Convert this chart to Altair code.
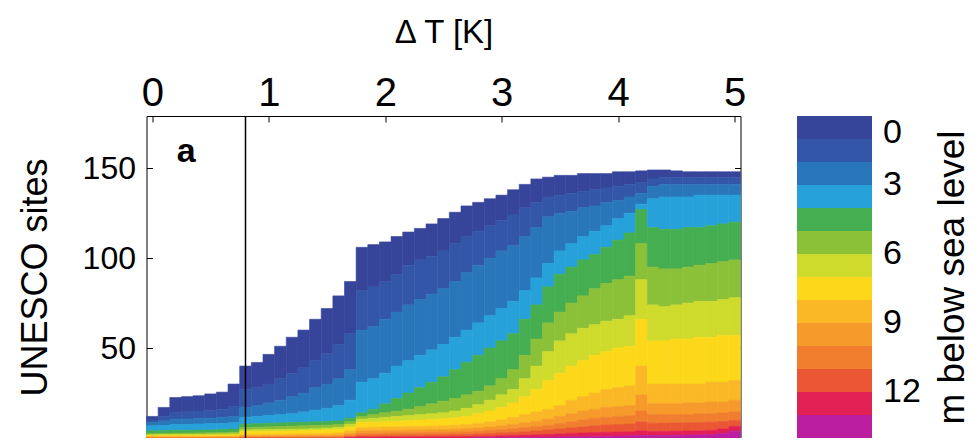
import altair as alt
import pandas as pd

# Warming levels (K), one column per 0.1 K
dT = [0.0, 0.1, 0.2, 0.3, 0.4, 0.5, 0.6, 0.7, 0.8, 0.9,
      1.0, 1.1, 1.2, 1.3, 1.4, 1.5, 1.6, 1.7, 1.8, 1.9,
      2.0, 2.1, 2.2, 2.3, 2.4, 2.5, 2.6, 2.7, 2.8, 2.9,
      3.0, 3.1, 3.2, 3.3, 3.4, 3.5, 3.6, 3.7, 3.8, 3.9,
      4.0, 4.1, 4.2, 4.3, 4.4, 4.5, 4.6, 4.7, 4.8, 4.9, 5.0]

# Number of UNESCO sites at least k m below sea level (k = 0 .. 13)
ge0 = [12, 17, 22.5, 23, 23.5, 24.5, 25.5, 30, 40, 42, 46.5, 51, 56, 60, 66, 72, 79, 87,
       106, 107.5, 109, 112, 114.5, 116.5, 119, 122, 125.5, 129, 131, 133, 135, 138, 141, 144, 145, 146, 146, 147,
       147, 147, 148, 148, 148.5, 149, 149, 148.5, 148, 148, 148, 148, 148]
ge1 = [10, 12, 14, 14.5, 15, 15.5, 16, 17.5, 27, 28, 30, 33, 36, 39, 43, 47, 52, 58,
       82, 84, 87, 91, 96, 99, 101, 104, 108, 112, 115, 118, 121, 124, 128, 131, 134, 135, 136, 137,
       138, 139, 140, 141, 142, 144, 145, 145, 145, 145, 145, 145, 145]
ge2 = [8.5, 9.5, 10.5, 10.5, 11, 11, 11.5, 12, 17, 18, 19.5, 21, 23, 25, 28, 30, 33, 38,
       60, 62, 66, 70, 74, 77, 80, 83, 87, 92, 96, 100, 104, 107, 112, 117, 123, 125, 126, 128,
       129, 131, 132, 134, 136, 140, 141, 141, 141, 141, 141, 141, 141]
ge3 = [6.8, 7, 7.5, 7.5, 7.8, 8, 8, 8.5, 11.5, 12, 12.5, 13, 13.5, 14.5, 15.5, 16.5, 18, 21,
       31, 33, 36, 40, 43, 46, 49, 52, 56, 60, 64, 68, 72, 76, 82, 89, 97, 104, 108, 112,
       115, 118, 122, 125, 130, 133, 134, 134, 134, 135, 135, 135, 135]
ge4 = [4, 4.2, 4.3, 4.3, 4.4, 4.5, 4.7, 5, 7.7, 8, 8.2, 8.4, 8.6, 8.8, 9, 9.2, 9.5, 11,
       14, 16, 19, 22, 25, 28, 31, 34, 38, 42, 46, 50, 54, 58, 66, 74, 84, 91, 95, 99,
       102, 106, 110, 114, 127, 117, 116, 116, 117, 117, 118, 119, 120]
ge5 = [2.4, 2.5, 2.6, 2.7, 2.8, 2.9, 3, 3.2, 5.8, 6, 6.2, 6.4, 6.6, 6.8, 7, 7.2, 7.5, 9,
       12, 13, 14, 15, 16, 17.5, 19, 20.5, 22, 24, 26, 29, 33, 38, 46, 55, 64, 70, 75, 79,
       83, 86, 88, 90, 108, 95, 94, 94, 95, 96, 97, 98, 99]
ge6 = [1.8, 1.9, 2, 2, 2, 2.1, 2.2, 2.3, 4.5, 4.6, 4.7, 4.8, 4.9, 5, 5.2, 5.5, 6, 7.5,
       10.5, 11, 11.5, 12, 12.5, 13, 13.5, 14, 15, 16.5, 18.5, 21, 24, 27, 33, 40, 48, 54, 58, 61,
       63, 65, 66, 68, 88, 74, 73, 74, 75, 76, 76, 77, 78]
ge7 = [1.3, 1.3, 1.4, 1.4, 1.4, 1.5, 1.5, 1.6, 3.5, 3.6, 3.7, 3.8, 3.9, 4, 4.2, 4.5, 4.8, 6,
       8.5, 8.8, 9, 9.3, 9.6, 10, 10.3, 10.7, 11.2, 12, 13.5, 15, 17, 19.5, 23, 27, 32, 36, 40, 43,
       46, 48, 50, 51, 66, 54, 54, 55, 55, 56, 56, 57, 57]
ge8 = [0.8, 0.8, 0.9, 0.9, 0.9, 0.9, 1, 1, 1.8, 1.9, 2, 2.1, 2.2, 2.3, 2.4, 2.6, 2.8, 4,
       5.8, 6, 6.1, 6.2, 6.3, 6.5, 6.6, 6.8, 7.1, 7.5, 8.2, 9, 10, 11.5, 13, 14.5, 16, 18, 21, 23,
       25, 27, 28, 29, 40, 30, 30, 30, 30, 30, 31, 31, 32]
ge9 = [0.5, 0.5, 0.5, 0.5, 0.55, 0.55, 0.6, 0.6, 1.1, 1.1, 1.2, 1.2, 1.3, 1.4, 1.4, 1.5, 1.6, 2.5,
       4, 4.1, 4.2, 4.3, 4.4, 4.5, 4.6, 4.7, 4.9, 5.2, 5.6, 6.1, 6.8, 7.7, 8.5, 9.3, 10.5, 12, 13.5, 15,
       16, 17, 17.5, 18, 24, 19, 19, 19, 19.5, 19.5, 20, 20, 21]
ge10 = [0.2, 0.2, 0.2, 0.25, 0.25, 0.25, 0.3, 0.3, 0.5, 0.5, 0.55, 0.6, 0.6, 0.65, 0.7, 0.75, 0.8, 1.5,
        2.5, 2.6, 2.7, 2.8, 2.9, 3, 3.1, 3.2, 3.3, 3.5, 3.8, 4.2, 4.6, 5.2, 5.8, 6.4, 7, 8, 9, 10,
        11, 11.5, 12, 12.5, 15, 13, 13, 13, 13, 13.5, 13.5, 14, 14.5]
ge11 = [0, 0, 0, 0, 0, 0, 0, 0, 0.1, 0.1, 0.15, 0.2, 0.2, 0.25, 0.3, 0.3, 0.35, 0.8,
        1.3, 1.4, 1.5, 1.5, 1.6, 1.6, 1.7, 1.8, 1.9, 2, 2.2, 2.5, 2.8, 3.1, 3.5, 3.9, 4.5, 5, 5.6, 6.2,
        6.8, 7.2, 7.5, 7.8, 9, 8.2, 8.3, 8.4, 8.5, 8.6, 8.8, 9.2, 9.8]
ge12 = [0, 0, 0, 0, 0, 0, 0, 0, 0, 0, 0, 0, 0, 0, 0, 0, 0, 0.3,
        0.5, 0.5, 0.6, 0.6, 0.6, 0.7, 0.7, 0.7, 0.8, 0.8, 0.9, 1, 1.2, 1.4, 1.6, 1.8, 2, 2.3, 2.6, 2.8,
        3, 3.2, 3.3, 3.4, 4, 3.6, 3.7, 3.8, 3.9, 4, 4.3, 5, 6.5]
ge13 = [0, 0, 0, 0, 0, 0, 0, 0, 0, 0, 0, 0, 0, 0, 0, 0, 0, 0,
        0, 0, 0, 0, 0, 0, 0, 0, 0, 0, 0.1, 0.1, 0.2, 0.2, 0.3, 0.4, 0.5, 0.6, 0.7, 0.8,
        0.9, 1, 1.1, 1.2, 1.5, 1.4, 1.5, 1.6, 1.7, 1.8, 2, 2.6, 3.8]

present_dT = [0.8]
panel_label = ["a"]
panel_x = [0.29]
panel_y = [159]

# colours of the 1-m depth classes 0-1 m ... 13-14 m
band_colors = ["#36449a", "#3456a8", "#2a76ba", "#27a1d9", "#45ae50", "#8bc039", "#cfdb2c",
               "#fdd81a", "#fbb826", "#f69b2b", "#f17e2f", "#eb5733", "#e32054", "#bb1ea0"]
# colour-bar boundaries (negated depth in m, bottom -> top)
bar_edges = [-14, -13, -12, -11, -10, -9, -8, -7, -6, -5, -4, -3, -2, -1, 0]

levels = [ge0, ge1, ge2, ge3, ge4, ge5, ge6, ge7, ge8, ge9, ge10, ge11, ge12, ge13]
half = 0.05
rows = []
for i, x in enumerate(dT):
    for k in range(14):
        top = levels[k][i]
        bottom = levels[k + 1][i] if k < 13 else 0
        if top > bottom:
            # depth stored negated so that the colour bar runs 0 (top) -> 14 (bottom)
            rows.append({"x0": x - half, "x1": x + half, "y0": bottom, "y1": top, "neg_depth": -(k + 0.5)})
df = pd.DataFrame(rows)

FONT = "Liberation Sans"
xscale = alt.Scale(domain=[-0.05, 5.05], nice=False, zero=False)
yscale = alt.Scale(domain=[0, 179], nice=False, zero=False)
depth_bin = alt.Bin(extent=[-14, 0], step=1)
color_range = list(reversed(band_colors))

label_expr = ("round(abs(datum.value)) % 3 == 0 && round(abs(datum.value)) < 14 "
              "? '' + round(abs(datum.value)) : ''")

rects = alt.Chart(df).mark_rect(strokeWidth=0.6).encode(
    x=alt.X("x0:Q", scale=xscale, title="Δ T [K]",
            axis=alt.Axis(orient="top", values=[0, 1, 2, 3, 4, 5], format="d",
                          labelFontSize=40, labelPadding=11, labelBaseline="alphabetic",
                          labelFlush=False, labelOverlap=False,
                          ticks=False, tickSize=0, domain=False,
                          grid=True, gridColor="black", gridOpacity=1, gridWidth=1,
                          gridDash=[6, 310, 6, 1000],
                          titleFontSize=33, titleFontWeight="normal",
                          titleY=-74, titleBaseline="alphabetic")),
    x2="x1:Q",
    y=alt.Y("y0:Q", scale=yscale, title="UNESCO sites",
            axis=alt.Axis(orient="left", values=[50, 100, 150], labelFontSize=32, labelPadding=11,
                          labelFlush=False, labelOverlap=False,
                          ticks=False, tickSize=0, domain=False,
                          grid=True, gridColor="black", gridOpacity=1, gridWidth=1,
                          gridDash=[6, 582, 6, 1000],
                          titleFontSize=36, titleFontWeight="normal",
                          titleAngle=270, titleX=-92, titleY=161,
                          titleBaseline="bottom", titleAlign="center")),
    y2="y1:Q",
    color=alt.Color("neg_depth:Q", bin=depth_bin,
                    scale=alt.Scale(range=color_range),
                    legend=alt.Legend(type="gradient", direction="vertical", orient="none",
                                      legendX=650.5, legendY=0, padding=0,
                                      values=bar_edges,
                                      gradientLength=322, gradientThickness=75,
                                      gradientStrokeWidth=0,
                                      labelFontSize=34, labelOffset=11, labelOverlap=False,
                                      labelExpr=label_expr,
                                      title=None)),
    stroke=alt.Stroke("neg_depth:Q", bin=depth_bin, scale=alt.Scale(range=color_range), legend=None),
)

rule = alt.Chart(pd.DataFrame({"dT": present_dT})).mark_rule(color="black", strokeWidth=1.5).encode(
    x=alt.X("dT:Q", scale=xscale, title="Δ T [K]")
)

# panel letter; its layer also carries the colour-bar title as a right-hand axis title
label = alt.Chart(pd.DataFrame({"x": panel_x, "y": panel_y, "t": panel_label})).mark_text(
    fontSize=34, fontWeight="bold", align="center", baseline="middle", color="black", font=FONT
).encode(
    x=alt.X("x:Q", scale=xscale, title="Δ T [K]"),
    y=alt.Y("y:Q", scale=yscale, title="m below sea level",
            axis=alt.Axis(orient="right", labels=False, ticks=False, domain=False, grid=False,
                          titleFontSize=37, titleFontWeight="normal", titleAngle=270,
                          titleX=223, titleY=161, titleBaseline="alphabetic", titleAlign="center")),
    text="t:N",
)

chart = alt.layer(rects, rule, label).resolve_scale(y="independent").properties(
    width=594, height=322,
    autosize=alt.AutoSizeParams(type="none"),
    padding={"left": 138.5, "top": 108, "right": 231.5, "bottom": 0},
).configure(font=FONT).configure_view(
    stroke="black", strokeWidth=1
).configure_axis(
    labelColor="black", titleColor="black", labelFont=FONT, titleFont=FONT
).configure_legend(
    labelColor="black", titleColor="black", labelFont=FONT, titleFont=FONT
)

chart.save("out.html", embed_options={"renderer": "svg", "actions": False})
